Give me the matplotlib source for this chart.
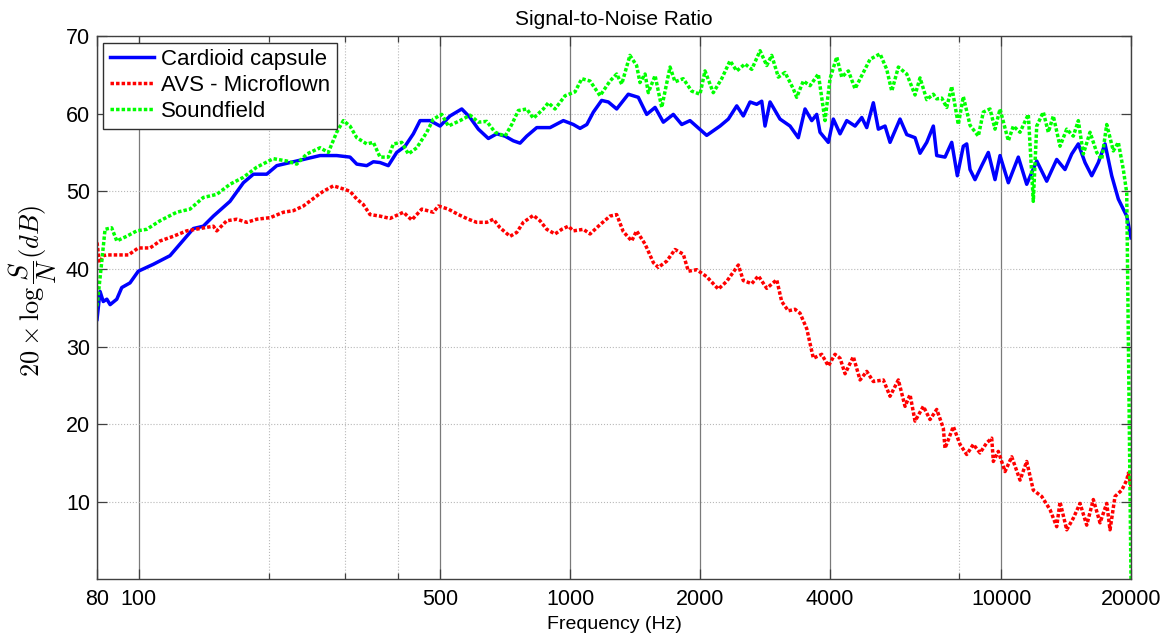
import matplotlib
matplotlib.use("Agg")
import matplotlib.pyplot as plt
from matplotlib.ticker import FixedLocator, NullFormatter, FixedFormatter

# Signal-to-noise ratio of three microphone types versus frequency
cardioid_freq = [80, 81.3, 82.7, 84.3, 85.8, 88.9, 91.3, 95.4, 99.7, 108.1,
                 118.1, 129.1, 133.8, 141.1, 148.9, 162.7, 174.8, 184.4, 198.0, 208.9,
                 224.3, 240.8, 263.2, 287.7, 308.9, 320.2, 337.7, 349.9, 362.6, 379.0,
                 396.4, 414.4, 433.2, 449.0, 473.6, 499.6, 527.0, 561.0, 586.4, 613.0,
                 646.6, 676.2, 706.9, 738.9, 765.8, 793.7, 837.3, 898.9, 965.0, 1018,
                 1055, 1094, 1133, 1184, 1227, 1283, 1365, 1440, 1506, 1575,
                 1646, 1736, 1816, 1898, 2075, 2228, 2329, 2436, 2523, 2615,
                 2710, 2784, 2833, 2910, 3069, 3238, 3384, 3508, 3636, 3734,
                 3800, 3972, 4080, 4229, 4383, 4582, 4749, 4877, 5052, 5189,
                 5378, 5523, 5826, 6039, 6312, 6483, 6719, 6960, 7087, 7408,
                 7678, 7911, 8168, 8318, 8466, 8695, 9012, 9335, 9675, 9937,
                 10388, 10957, 11459, 12088, 12751, 13450, 14060, 14572, 15095, 15645,
                 16215, 16797, 17409, 18043, 18690, 19196, 19548, 20000]
cardioid_snr = [33.5, 37.1, 35.8, 36.1, 35.4, 36.1, 37.6, 38.2, 39.7, 40.6,
                41.7, 44.2, 45.2, 45.5, 46.8, 48.7, 51.1, 52.2, 52.2, 53.3,
                53.7, 54.1, 54.6, 54.6, 54.4, 53.5, 53.3, 53.8, 53.7, 53.3,
                55.0, 55.8, 57.4, 59.1, 59.1, 58.4, 59.7, 60.6, 59.5, 58.0,
                56.8, 57.4, 57.1, 56.5, 56.2, 57.1, 58.2, 58.2, 59.1, 58.6,
                58.1, 58.6, 60.2, 61.7, 61.5, 60.6, 62.5, 62.1, 59.9, 60.8,
                58.9, 59.9, 58.6, 59.1, 57.2, 58.4, 59.3, 61.0, 59.7, 61.5,
                61.2, 61.6, 58.4, 61.5, 59.3, 58.4, 56.9, 60.6, 59.1, 59.9,
                57.6, 56.3, 59.3, 57.4, 59.1, 58.4, 59.5, 58.2, 61.4, 58.0,
                58.4, 56.3, 59.3, 57.3, 56.9, 54.9, 56.3, 58.4, 54.6, 54.4,
                56.3, 52.0, 55.8, 56.1, 52.8, 51.5, 53.3, 55.0, 51.5, 54.6,
                51.1, 54.4, 50.9, 53.9, 51.3, 54.1, 52.8, 54.8, 56.1, 53.7,
                52.0, 53.7, 56.1, 52.0, 49.0, 47.7, 46.8, 44.0]

avs_freq = [80, 81.0, 82.7, 84.3, 88.9, 94.6, 99.7, 106.2, 112.0, 120.2,
            129.1, 138.7, 148.9, 151.6, 159.9, 168.7, 178.0, 187.7, 201.6, 216.4,
            228.2, 240.8, 258.6, 267.9, 282.6, 298.1, 308.9, 320.2, 331.6, 343.7,
            362.6, 382.5, 410.7, 429.5, 453.1, 482.0, 495.1, 522.2, 550.9, 581.1,
            607.7, 641.1, 664.1, 688.2, 726.0, 752.4, 779.4, 822.2, 852.1, 883.2,
            923.2, 956.8, 991.0, 1018, 1074, 1113, 1174, 1238, 1283, 1329,
            1390, 1427, 1493, 1561, 1603, 1676, 1752, 1831, 1881, 1967,
            2075, 2208, 2309, 2371, 2457, 2523, 2639, 2734, 2859, 3016,
            3097, 3208, 3325, 3415, 3540, 3667, 3835, 3972, 4117, 4229,
            4344, 4540, 4706, 4877, 5052, 5329, 5523, 5774, 5984, 6146,
            6312, 6598, 6838, 7087, 7341, 7408, 7744, 8026, 8318, 8617,
            8931, 9256, 9506, 9588, 9847, 10206, 10578, 11057, 11459, 11870,
            12415, 12977, 13450, 13690, 14188, 14697, 15233, 15788, 16354, 16950,
            17568, 17880, 18363, 19032, 19548, 19716, 20000]
avs_snr = [43.4, 40.8, 41.7, 41.8, 41.8, 41.8, 42.7, 42.7, 43.6, 44.2,
           44.9, 45.2, 45.5, 44.9, 46.2, 46.4, 46.0, 46.4, 46.6, 47.3,
           47.5, 48.1, 49.4, 50.0, 50.7, 50.3, 50.0, 49.0, 48.3, 47.0,
           46.8, 46.5, 47.3, 46.3, 47.7, 47.3, 48.1, 47.7, 47.0, 46.4,
           46.0, 46.0, 46.4, 45.3, 44.2, 44.7, 46.0, 46.9, 46.2, 45.1,
           44.5, 45.1, 45.5, 44.9, 45.1, 44.5, 45.7, 46.8, 47.0, 44.8,
           43.6, 44.9, 43.2, 40.8, 40.2, 41.0, 42.5, 41.9, 39.7, 39.9,
           39.0, 37.4, 38.4, 39.3, 40.5, 38.5, 38.1, 39.1, 37.5, 38.6,
           35.8, 34.6, 34.8, 34.3, 32.3, 28.5, 29.0, 27.5, 29.0, 28.5,
           26.5, 28.7, 25.7, 26.8, 25.5, 25.7, 23.6, 25.7, 22.3, 23.8,
           20.4, 22.3, 20.6, 21.9, 19.5, 16.9, 19.7, 17.4, 16.1, 17.4,
           16.3, 17.6, 18.2, 15.2, 16.5, 13.9, 15.8, 12.8, 15.2, 11.5,
           10.7, 9.0, 6.8, 10.0, 6.4, 7.9, 9.8, 7.0, 10.3, 7.3,
           9.8, 6.4, 10.7, 11.5, 12.8, 13.7, 12.0]

soundfield_freq = [80, 82.0, 83.5, 86.5, 88.9, 93.7, 98.9, 104.3, 112.0, 122.4,
                   131.4, 141.1, 151.6, 162.7, 174.8, 187.7, 205.1, 220.3, 232.4, 245.2,
                   263.2, 275.1, 287.7, 298.1, 308.9, 320.2, 337.7, 349.9, 362.6, 379.0,
                   389.3, 407.2, 421.8, 441.1, 465.4, 482.0, 504.2, 522.2, 555.9, 586.4,
                   613.0, 641.1, 670.1, 706.9, 732.6, 758.9, 793.7, 822.2, 867.3, 890.8,
                   923.2, 973.8, 1027, 1065, 1113, 1174, 1238, 1283, 1318, 1377,
                   1427, 1453, 1493, 1519, 1575, 1632, 1706, 1752, 1831, 1915,
                   2002, 2056, 2149, 2248, 2350, 2436, 2546, 2639, 2759, 2859,
                   2936, 3042, 3152, 3295, 3355, 3476, 3603, 3766, 3903, 4009,
                   4155, 4268, 4421, 4582, 4790, 4964, 5236, 5427, 5574, 5774,
                   6039, 6312, 6483, 6719, 6960, 7087, 7279, 7476, 7678, 7953,
                   8168, 8466, 8850, 9089, 9420, 9675, 9937, 10388, 10669, 11057,
                   11557, 11870, 12088, 12521, 12860, 13208, 13690, 14188, 14697, 15095,
                   15504, 16069, 16654, 17105, 17568, 18197, 18690, 19196, 19548, 20000]
soundfield_snr = [35.2, 40.8, 45.1, 45.3, 43.6, 44.2, 44.9, 45.1, 46.2, 47.3,
                  47.7, 49.2, 49.6, 50.9, 51.8, 53.1, 54.2, 53.9, 53.5, 54.8,
                  55.6, 55.0, 57.6, 59.1, 58.4, 56.9, 56.1, 56.3, 54.4, 54.4,
                  56.1, 56.3, 54.8, 55.6, 57.6, 59.3, 59.9, 58.4, 59.1, 59.8,
                  58.9, 59.0, 57.6, 57.1, 58.6, 60.4, 60.6, 59.4, 60.6, 61.4,
                  60.6, 62.3, 62.8, 64.5, 64.2, 62.3, 64.2, 65.1, 63.8, 67.5,
                  66.2, 64.0, 65.1, 62.7, 64.9, 60.8, 66.0, 64.1, 64.5, 62.9,
                  62.5, 65.5, 62.7, 64.5, 66.8, 65.5, 66.4, 65.7, 68.1, 66.2,
                  67.5, 64.7, 65.3, 63.2, 62.1, 64.2, 63.6, 65.1, 59.1, 64.5,
                  67.3, 64.7, 65.5, 63.2, 65.3, 67.0, 67.7, 65.7, 62.9, 66.0,
                  65.1, 62.4, 64.6, 61.8, 62.5, 61.9, 62.0, 60.8, 63.5, 58.6,
                  62.2, 58.5, 57.1, 60.2, 60.6, 58.0, 60.6, 56.5, 58.4, 57.6,
                  59.9, 48.7, 58.4, 60.2, 57.6, 59.7, 55.8, 58.0, 57.1, 59.1,
                  54.8, 57.6, 55.0, 54.1, 58.6, 55.2, 56.3, 52.8, 49.8, 0.0]

x_ticks = [80, 100, 500, 1000, 2000, 4000, 10000, 20000]
x_minor_ticks = [200, 300, 400, 8000]
y_ticks = [10, 20, 30, 40, 50, 60, 70]

plt.rcParams['font.family'] = ['Liberation Sans', 'DejaVu Sans']
plt.rcParams['mathtext.fontset'] = 'cm'

fig = plt.figure(figsize=(11.69, 6.38), dpi=100)
ax = fig.add_axes([0.083, 0.0917, 0.8845, 0.8519])

dot = (0, (1.0, 0.6))
ax.plot(cardioid_freq, cardioid_snr, color=(0, 0, 1), lw=2.5, label='Cardioid capsule')
ax.plot(avs_freq, avs_snr, color=(1, 0, 0), lw=2.5, linestyle=dot, label='AVS - Microflown')
ax.plot(soundfield_freq, soundfield_snr, color=(0, 1, 0), lw=2.5, linestyle=dot, label='Soundfield')

ax.set_xscale('log')
ax.set_xlim(80, 20000)
ax.set_ylim(0, 70)
ax.xaxis.set_major_locator(FixedLocator(x_ticks))
ax.xaxis.set_major_formatter(FixedFormatter([str(t) for t in x_ticks]))
ax.xaxis.set_minor_locator(FixedLocator(x_minor_ticks))
ax.xaxis.set_minor_formatter(NullFormatter())
ax.set_yticks(y_ticks)

# grid: solid at labelled frequencies, dotted elsewhere
ax.grid(which='major', axis='x', color='#7a7a7a', lw=0.9, ls='-')
ax.grid(which='minor', axis='x', color='#b8b8b8', lw=0.8, ls=':')
ax.grid(which='major', axis='y', color='#b8b8b8', lw=0.8, ls=':')
ax.set_axisbelow(True)

ax.tick_params(which='both', direction='in', top=True, right=True,
               length=7, width=0.9, color='#404040', labelsize=15.5)
ax.tick_params(axis='x', which='major', pad=7)
ax.tick_params(axis='y', which='major', pad=5)
ax.tick_params(which='minor', length=4)
for sp in ax.spines.values():
    sp.set_color('#404040')
    sp.set_linewidth(1.0)

ax.set_title('Signal-to-Noise Ratio', fontsize=15, pad=8)
ax.set_xlabel('Frequency (Hz)', fontsize=14, labelpad=4)
ax.set_ylabel(r'$20\times\log\dfrac{S}{N}(dB)$', fontsize=19)
ax.yaxis.set_label_coords(-0.037, 0.53)

leg = ax.legend(loc='upper left', bbox_to_anchor=(0.006, 0.988), borderaxespad=0,
                fontsize=16, frameon=True, fancybox=False, edgecolor='#303030',
                framealpha=1, handlelength=2.0, handletextpad=0.3,
                labelspacing=0.22, borderpad=0.3)
leg.get_frame().set_linewidth(1.0)

fig.savefig('out.png', dpi=100)
